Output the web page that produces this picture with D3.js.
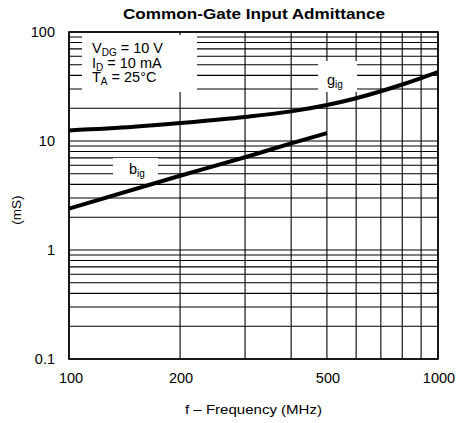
<!DOCTYPE html>
<html>
<head>
<meta charset="utf-8">
<script src="https://cdn.jsdelivr.net/npm/d3@7"></script>
<style>
body { margin: 0; background: #fff; }
text { font-family: "Liberation Sans", Arial, sans-serif; fill: #000; }
</style>
</head>
<body>
<script>
// values
var freqG = [100, 150, 200, 300, 400, 500, 600, 700, 800, 900, 1000];
var gig   = [12.5, 13.5, 14.6, 16.6, 18.7, 21.4, 24.7, 28.6, 33, 37.8, 43];
var freqB = [100, 200, 300, 400, 500];
var big   = [2.4, 4.8, 7.1, 9.5, 11.8];

var xLabels = [100, 200, 500, 1000];
var yLabels = [0.1, 1, 10, 100];
var notes = [["V", "DG", " = 10 V"], ["I", "D", " = 10 mA"], ["T", "A", " = 25°C"]];

var W = 464, H = 423;
var m = {left: 69, right: 438, top: 32, bottom: 359};

var svg = d3.select("body").append("svg")
  .attr("width", W)
  .attr("height", H);

var x = d3.scaleLog().domain([100, 1000]).range([m.left, m.right]);
var y = d3.scaleLog().domain([0.1, 100]).range([m.bottom, m.top]);

// grid
var grid = svg.append("g").attr("stroke", "#000").attr("stroke-width", 1.1);
grid.selectAll(".hx")
  .data(y.ticks())
  .join("line")
  .attr("x1", m.left).attr("x2", m.right)
  .attr("y1", d => y(d)).attr("y2", d => y(d));
grid.selectAll(".vx")
  .data(x.ticks())
  .join("line")
  .attr("y1", m.top).attr("y2", m.bottom)
  .attr("x1", d => x(d)).attr("x2", d => x(d));

// white boxes that break the grid under the labels
svg.append("rect").attr("x", 82).attr("y", 35).attr("width", 115).attr("height", 57).attr("fill", "#fff");
svg.append("rect").attr("x", 318).attr("y", 61).attr("width", 39).attr("height", 31).attr("fill", "#fff");
svg.append("rect").attr("x", 113).attr("y", 158).attr("width", 45).attr("height", 20).attr("fill", "#fff");

svg.append("rect")
  .attr("x", m.left).attr("y", m.top)
  .attr("width", m.right - m.left).attr("height", m.bottom - m.top)
  .attr("fill", "none").attr("stroke", "#000").attr("stroke-width", 1.6);

svg.append("clipPath").attr("id", "clip")
  .append("rect")
  .attr("x", m.left).attr("y", m.top)
  .attr("width", m.right - m.left).attr("height", m.bottom - m.top);

var line = d3.line()
  .x(d => x(d[0]))
  .y(d => y(d[1]))
  .curve(d3.curveMonotoneX);

svg.append("path")
  .datum(d3.zip(freqG, gig))
  .attr("d", line)
  .attr("clip-path", "url(#clip)")
  .attr("fill", "none").attr("stroke", "#000").attr("stroke-width", 4);

svg.append("path")
  .datum(d3.zip(freqB, big))
  .attr("d", line)
  .attr("fill", "none").attr("stroke", "#000").attr("stroke-width", 4);

// tick labels
svg.selectAll(".xl")
  .data(xLabels)
  .join("text")
  .attr("x", d => x(d) + (d == 100 ? 2 : 1))
  .attr("y", 383)
  .attr("text-anchor", "middle")
  .attr("font-size", 14.5)
  .text(d => d);

svg.selectAll(".yl")
  .data(yLabels)
  .join("text")
  .attr("x", 55)
  .attr("y", d => y(d) + 5)
  .attr("text-anchor", "end")
  .attr("font-size", 14.5)
  .text(d => d);

// titles
svg.append("text")
  .attr("x", 123).attr("y", 19)
  .attr("font-size", 15).attr("font-weight", "bold")
  .attr("textLength", 262).attr("lengthAdjust", "spacingAndGlyphs")
  .text("Common-Gate Input Admittance");

svg.append("text")
  .attr("x", 185).attr("y", 414)
  .attr("font-size", 13.5)
  .attr("textLength", 137).attr("lengthAdjust", "spacingAndGlyphs")
  .text("f – Frequency (MHz)");

svg.append("text")
  .attr("transform", "translate(21,210) rotate(-90)")
  .attr("text-anchor", "middle")
  .attr("font-size", 13.5)
  .text("(mS)");

// conditions
notes.forEach(function(n, i) {
  var t = svg.append("text")
    .attr("x", 92).attr("y", 53 + i * 14.5)
    .attr("font-size", 14.5);
  t.append("tspan").text(n[0]);
  t.append("tspan").attr("font-size", 10).attr("dy", 3).text(n[1]);
  t.append("tspan").attr("dy", -3).text(n[2]);
});

// curve labels
function curveLabel(px, py, main, sub) {
  var t = svg.append("text").attr("x", px).attr("y", py).attr("font-size", 14.5);
  t.append("tspan").text(main);
  t.append("tspan").attr("font-size", 10).attr("dy", 3).text(sub);
}
curveLabel(327, 85, "g", "ig");
curveLabel(129, 174, "b", "ig");
</script>
</body>
</html>
